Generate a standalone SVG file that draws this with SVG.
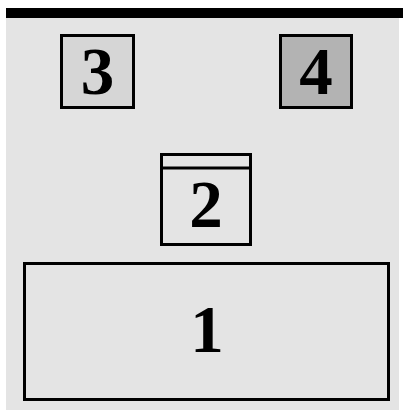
<svg xmlns="http://www.w3.org/2000/svg" width="403" height="412" viewBox="0 0 403 412">
<style>
.box{stroke:#000;stroke-width:3}
.lbl{font-family:"Liberation Serif","Times New Roman",serif;font-weight:bold;font-size:67px;text-anchor:middle;fill:#000}
</style>
<rect x="0" y="0" width="403" height="412" fill="#fff"/>
<rect x="6" y="18" width="393" height="392" fill="#e4e4e4"/>
<rect x="6" y="8" width="397" height="10" fill="#000"/>
<g id="node3">
<rect class="box" x="61.5" y="35.5" width="72" height="72" fill="#d6d6d6"/>
<text class="lbl" x="97.5" y="94">3</text>
</g>
<g id="node4">
<rect class="box" x="280.5" y="35.5" width="71" height="72" fill="#b3b3b3"/>
<text class="lbl" x="316" y="94">4</text>
</g>
<g id="node2">
<rect class="box" x="161.5" y="154.5" width="89" height="90" fill="#e4e4e4"/>
<line class="box" x1="161.5" y1="168" x2="250.5" y2="168"/>
<text class="lbl" x="206" y="227">2</text>
</g>
<g id="node1">
<rect class="box" x="24.5" y="263.5" width="364" height="136" fill="#e4e4e4"/>
<text class="lbl" x="207" y="352">1</text>
</g>
<g id="connectors"></g>
</svg>
